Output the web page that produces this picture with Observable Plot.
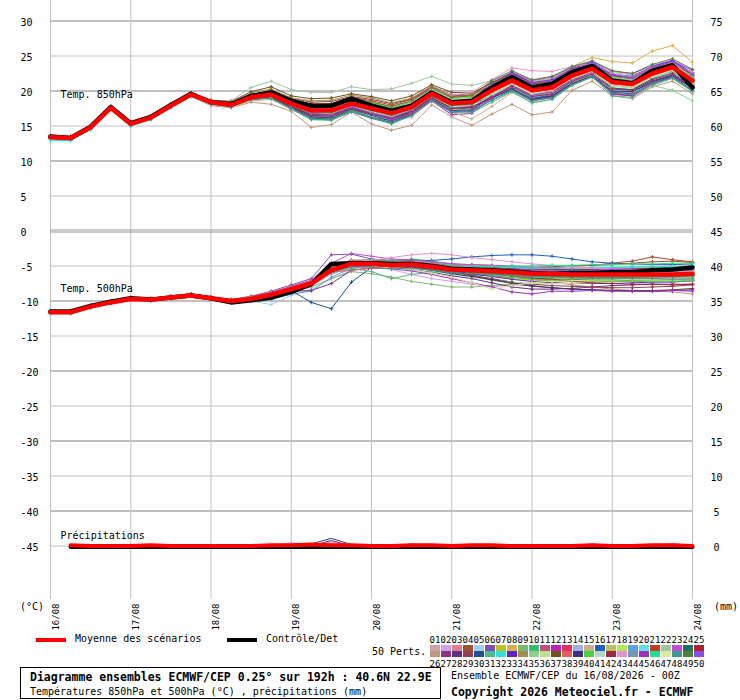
<!DOCTYPE html>
<html>
<head>
<meta charset="utf-8">
<script src="https://cdn.jsdelivr.net/npm/d3@7"></script>
<script src="https://cdn.jsdelivr.net/npm/@observablehq/plot@0.6"></script>
<style>
  body { margin: 0; background: #fff; }
  #page { position: relative; width: 740px; height: 700px; font-family: "DejaVu Sans Mono", monospace; font-size: 10px; color: #000; overflow: hidden; }
  #page .abs { position: absolute; white-space: nowrap; }
</style>
</head>
<body>
<div id="page"></div>
<script>
// Diagramme ensembles ECMWF/CEP - 850hPa, 500hPa, precip

// echeances (heures depuis 16/08 00Z), pas de 6h
const stepHours = [0,6,12,18,24,30,36,42,48,54,60,66,72,78,84,90,96,102,108,114,120,126,132,138,144,150,156,162,168,174,180,186,192]
const dayHours = [0,24,48,72,96,120,144,168,192]
const dayLabels = ["16/08","17/08","18/08","19/08","20/08","21/08","22/08","23/08","24/08"]

const yTicks = [30,25,20,15,10,5,0,-5,-10,-15,-20,-25,-30,-35,-40,-45]
const rightLabels = [75,70,65,60,55,50,45,40,35,30,25,20,15,10,5,0]
const precipZero = -45 // le 0 mm de l'axe de droite tombe sur -45 a gauche

const memberColors = [
  "#d0a0a8","#d0a0e0","#e08088","#a05030","#a0d0e8","#8050b0","#c0c020","#d8b050","#80b870","#30c070",
  "#c05078","#c020b0","#e03060","#a0b0e0","#c8b088","#2060c0","#c0c060","#b0e850","#60a0e0","#60e0e8",
  "#c04020","#a0c8a0","#c050d8","#207060","#b02030","#c09880","#903080","#603080","#904050","#205090",
  "#50b890","#30e0e0","#6020d0","#a09050","#90d090","#c0e090","#705020","#e06060","#403080","#50d040",
  "#b0d8c8","#a02840","#e890d0","#7098b0","#a030c0","#20e090","#e0e8a0","#409890","#508040","#8050e8"
]

const mean850 = [13.4,13.3,14.8,17.6,15.3,16.2,17.9,19.5,18.4,18.0,19.1, 19.5,18.2,17.2,17.2,18.2,17.5,16.8,17.7,19.6,18.2,18.4, 20.1,21.5,20.1,20.5,22.2,23.2,21.3,21.0,22.5,23.4,21.5]
const ctl850  = [13.5,13.3,14.9,17.7,15.4,16.3,18.0,19.6,18.4,18.1,19.3, 19.8,18.6,17.9,17.9,18.9,17.9,17.2,17.9,19.8,18.4,18.6, 20.5,22.0,20.5,21.0,22.7,23.6,21.5,21.1,22.9,23.7,20.5]

const mean500 = [-11.6,-11.6,-10.8,-10.2,-9.7,-9.8,-9.5,-9.2,-9.6,-10.0,-9.7, -9.1,-8.3,-7.5,-5.6,-4.7,-4.7,-4.9,-4.8,-5.1,-5.5,-5.6, -5.7,-5.9,-6.1,-6.1,-6.2,-6.2,-6.2,-6.2,-6.2,-6.2,-6.1]
const ctl500  = [-11.5,-11.5,-10.7,-10.1,-9.6,-9.8,-9.5,-9.2,-9.6,-10.2,-9.9, -9.5,-8.7,-7.6,-4.7,-4.6,-4.6,-4.7,-4.7,-5.0,-5.4,-5.5, -5.6,-5.8,-6.0,-6.1,-6.0,-6.0,-5.9,-5.9,-5.6,-5.5,-5.2]

// precip (mm) de +6h a +192h
const meanPrecip = [0.1,0,0,0,0.1,0,0,0,0,0,0.1,0.1,0.2,0.1,0.1,0,0,0.1,0.1,0,0.1,0.1,0,0,0,0,0.1,0,0,0.1,0.1,0]
const ctlPrecip  = [0,0,0,0,0,0,0,0,0,0,0,0,0,0,0,0,0,0,0,0,0,0,0,0,0,0,0,0,0,0,0,0]
// perturbations avec pluie : [membre, echeance, mm], le reste a 0
const wetPoints = [[39,13,0.3],[39,14,1.1],[39,15,0.2],[3,14,0.6],[10,14,0.3],[28,14,0.8],[43,12,0.5],[31,18,0.3],[43,27,0.3],[43,31,0.4],[12,31,0.2]]

const t850Members = [
  [13.5,13.4,14.9,17.7,15.4,16.3,18.0,19.6,18.5,18.2,19.4, 19.9,18.6,17.7,17.7,18.7,18.1,17.4,18.3,20.2,18.9,19.0, 20.7,22.0,20.8,21.1,22.7,23.5,21.9,21.5,22.9,23.7,22.3],
  [13.3,13.2,14.7,17.5,15.2,16.1,17.8,19.4,18.3,17.9,19.0, 19.3,17.9,16.6,16.5,17.6,16.7,15.9,17.0,19.0,17.5,17.6, 19.2,20.7,19.0,19.5,21.4,22.5,20.1,19.9,21.6,22.4,20.6],
  [13.6,13.5,15.0,17.9,15.5,16.4,18.1,19.6,18.6,18.3,19.6, 20.1,18.9,18.1,18.0,19.0,18.4,17.8,18.6,20.6,19.4,19.6, 21.2,22.5,21.3,21.8,23.1,23.9,22.4,22.0,23.1,24.0,23.1],
  [13.4,13.3,14.8,17.6,15.3,16.2,17.9,19.4,18.3,18.0,19.2, 19.6,18.4,17.5,17.6,18.5,17.8,17.2,18.2,20.1,18.7,18.8, 20.5,21.8,20.4,20.9,22.4,23.3,21.5,21.1,22.5,23.6,22.1],
  [13.2,13.1,14.6,17.4,15.1,16.0,17.7,19.3,18.1,17.7,18.8, 19.1,17.7,16.3,16.2,17.3,16.3,15.5,16.7,18.8,17.1,17.1, 18.9,20.5,18.8,19.4,21.3,22.4,19.9,19.7,21.4,22.2,20.6],
  [13.5,13.4,14.9,17.7,15.4,16.3,17.9,19.5,18.4,18.1,19.3, 19.8,18.5,17.4,17.3,18.5,17.7,17.2,18.2,20.1,18.8,19.0, 20.8,22.1,20.9,21.3,22.8,23.7,22.2,21.8,23.0,23.9,22.6],
  [13.4,13.3,14.8,17.6,15.3,16.2,17.9,19.5,18.4,17.9,19.0, 19.4,18.0,16.9,16.8,17.9,17.2,16.4,17.4,19.3,17.9,18.0, 19.8,21.3,19.9,20.3,22.0,23.0,21.0,20.6,22.1,22.9,21.3],
  [13.4,13.3,14.8,17.7,15.4,16.3,18.0,19.6,18.4,18.1,19.2, 19.7,18.5,17.6,17.7,18.7,18.1,17.5,18.5,20.3,19.0,19.2, 20.8,22.5,21.2,21.8,23.5,24.8,24.2,24.0,25.7,26.5,24.1],
  [13.3,13.2,14.7,17.5,15.2,16.1,17.8,19.4,18.3,17.9,18.9, 19.2,17.8,16.4,16.3,17.5,16.6,15.8,16.9,18.9,17.3,17.4, 19.4,20.9,19.4,19.9,21.7,22.8,20.5,20.1,21.8,22.7,21.0],
  [13.5,13.4,14.9,17.8,15.4,16.3,18.0,19.6,18.5,18.1,19.3, 19.8,18.6,17.8,17.9,18.8,18.2,17.5,18.3,20.2,18.7,18.9, 20.5,21.8,20.5,20.8,22.4,23.3,21.6,21.4,22.8,23.6,21.9],
  [13.4,13.3,14.8,17.6,15.3,16.2,17.9,19.5,18.4,18.0,19.1, 19.5,18.3,17.2,17.1,18.3,17.6,16.8,17.8,19.8,18.4,18.6, 20.4,21.9,20.6,21.1,22.7,23.6,22.0,21.5,22.8,23.5,22.0],
  [13.3,13.2,14.7,17.5,15.2,16.1,17.8,19.4,18.3,17.8,18.8, 19.0,17.6,16.3,16.1,17.3,16.2,15.8,16.6,18.6,16.6,16.8, 19.0,20.6,19.0,19.5,21.4,22.4,19.5,19.3,21.0,22.1,20.7],
  [13.5,13.4,14.9,17.7,15.4,16.3,18.0,19.6,18.5,18.2,19.3, 19.7,18.3,17.2,17.2,18.3,17.6,17.0,17.8,19.7,18.3,18.5, 19.9,21.2,19.7,20.0,21.8,22.9,20.8,20.6,22.2,23.0,21.2],
  [13.2,13.1,14.6,17.4,15.1,16.0,17.7,19.3,18.2,17.8,18.9, 19.3,17.9,16.8,16.7,17.8,17.0,16.3,17.3,19.2,17.8,18.0, 19.6,20.9,19.3,19.7,21.5,22.6,20.4,20.2,21.8,22.6,20.9],
  [13.3,13.2,14.7,17.5,15.2,16.1,17.8,19.3,18.2,17.7,18.6, 18.8,17.4,16.0,16.1,17.3,16.2,15.6,16.3,18.6,17.0,16.0, 17.8,19.8,18.4,18.8,21.0,22.2,20.0,19.5,21.2,22.0,20.0],
  [13.4,13.3,14.8,17.6,15.3,16.2,17.9,19.5,18.4,18.0,19.1, 19.4,18.1,17.0,17.0,18.0,17.2,16.6,17.5,19.5,18.0,18.2, 19.2,20.6,19.0,19.3,21.2,22.3,20.0,19.8,21.4,22.3,20.7],
  [13.5,13.4,14.9,17.7,15.4,16.3,18.0,19.6,18.5,18.1,19.3, 19.9,18.7,17.9,18.0,18.8,18.3,17.6,18.4,20.2,18.8,19.0, 20.6,22.0,20.7,21.1,22.6,23.6,22.0,21.6,23.0,23.8,22.2],
  [13.4,13.3,14.8,17.6,15.3,16.2,17.9,19.5,18.4,18.0,19.0, 19.5,18.1,17.1,17.0,18.1,17.4,16.6,17.6,19.6,18.1,18.3, 20.1,21.6,20.2,20.7,22.3,23.2,21.5,21.1,22.5,23.4,21.7],
  [13.3,13.2,14.7,17.5,15.2,16.1,17.8,19.4,18.3,17.9,19.0, 19.2,17.8,16.5,16.4,17.6,16.7,15.9,17.0,19.0,17.5,17.6, 19.7,21.2,19.7,20.2,22.0,23.0,20.9,20.5,22.1,23.1,21.2],
  [12.9,12.9,14.5,17.3,15.0,15.9,17.6,19.3,18.2,17.8,18.9, 19.6,18.4,17.5,17.4,18.4,17.8,17.1,17.9,19.8,18.3,18.5, 19.8,21.1,19.6,19.9,21.7,22.8,20.7,20.5,22.0,22.8,21.1],
  [13.6,13.5,15.0,17.8,15.5,16.4,18.1,19.7,18.6,18.2,19.3, 20.0,18.8,18.1,18.2,19.1,18.6,18.0,18.8,20.5,19.2,19.4, 21.0,22.3,21.0,21.3,22.9,23.8,22.2,21.8,23.2,24.0,22.5],
  [13.4,13.3,14.8,17.6,15.3,16.2,17.9,19.6,18.6,18.6,20.5, 21.4,20.2,19.8,19.8,20.6,20.2,20.3,21.1,22.1,21.0,20.8, 21.5,22.6,21.5,21.8,23.3,24.0,22.6,22.3,23.3,23.6,22.5],
  [13.4,13.3,14.8,17.6,15.3,16.2,17.9,19.5,18.4,18.0,19.2, 19.7,18.4,17.5,17.5,18.5,17.9,17.2,18.0,19.9,18.6,18.8, 21.2,22.7,21.5,22.0,23.4,24.2,22.8,22.5,23.6,24.4,22.9],
  [13.3,13.2,14.7,17.5,15.2,16.1,17.8,19.4,18.3,17.8,18.8, 19.0,17.5,16.1,16.0,17.2,16.2,15.5,16.6,18.6,17.0,17.1, 18.7,20.2,18.6,19.1,21.0,22.2,19.6,19.4,21.1,22.1,20.1],
  [13.5,13.4,14.9,17.7,15.4,16.3,18.0,19.6,18.5,18.1,19.2, 19.7,18.5,17.6,17.7,18.6,17.9,17.3,18.1,19.9,18.5,18.7, 20.1,21.4,20.0,20.3,22.1,23.2,21.1,20.9,22.4,23.2,21.5],
  [13.4,13.3,14.8,17.5,15.2,16.1,17.7,19.2,17.9,17.6,18.4, 18.1,17.1,14.8,15.2,17.0,15.3,14.4,15.1,18.0,16.3,15.1, 16.7,18.1,16.6,17.0,20.1,21.4,19.3,18.9,20.6,21.4,19.6],
  [13.3,13.2,14.7,17.5,15.2,16.1,17.8,19.4,18.3,17.9,19.0, 19.3,17.9,16.7,16.6,17.7,16.9,16.2,17.2,19.1,17.6,17.8, 19.0,20.4,18.8,19.2,21.1,22.3,19.8,19.6,21.3,22.2,20.4],
  [13.4,13.3,14.8,17.6,15.3,16.2,17.9,19.5,18.4,18.0,19.1, 19.6,18.2,17.3,17.3,18.3,17.6,16.9,17.8,19.7,18.3,18.5, 20.3,21.7,20.3,20.7,22.4,23.4,21.5,21.2,22.6,23.5,21.8],
  [13.5,13.4,14.9,17.7,15.4,16.3,18.0,19.6,18.5,18.1,19.4, 20.1,19.0,18.4,18.5,19.2,18.8,18.2,18.9,20.6,19.3,19.4, 20.9,22.1,20.8,21.1,22.7,23.6,22.1,21.7,23.1,23.9,22.3],
  [13.3,13.2,14.7,17.5,15.2,16.1,17.8,19.4,18.3,17.9,18.9, 19.1,17.7,16.3,16.2,17.4,16.5,15.7,16.8,18.8,17.2,17.3, 19.3,20.8,19.3,19.8,21.6,22.7,20.4,20.2,21.8,22.7,20.9],
  [13.2,13.1,14.6,17.4,15.1,16.0,17.7,19.3,18.2,17.8,18.9, 18.9,17.4,15.9,15.8,17.1,16.1,15.3,16.5,18.6,16.9,16.9, 18.4,19.9,18.3,18.8,20.8,22.0,19.3,19.1,20.8,21.8,19.9],
  [13.0,12.9,14.5,17.3,15.0,15.9,17.6,19.2,18.1,17.7,18.8, 19.8,18.6,17.7,17.7,18.7,18.0,17.3,18.2,20.1,18.7,18.9, 19.3,20.5,19.1,19.6,21.4,22.4,20.3,20.0,21.6,22.5,20.7],
  [13.4,13.3,14.8,17.6,15.3,16.2,17.9,19.5,18.4,18.1,19.3, 19.7,18.5,17.5,17.5,18.5,17.8,17.1,18.0,19.9,18.5,18.7, 21.1,22.6,21.2,21.6,23.2,24.1,22.4,22.1,23.5,24.3,22.6],
  [13.5,13.4,14.9,17.7,15.4,16.3,18.0,19.6,18.6,18.3,19.7, 20.3,19.0,18.6,18.7,19.4,19.0,18.3,19.0,20.7,19.5,19.4, 21.0,22.3,20.9,21.3,22.9,23.7,22.1,21.8,23.2,24.0,22.3],
  [13.4,13.3,14.8,17.6,15.3,16.2,17.9,19.4,18.3,17.9,18.9, 19.3,17.9,16.7,16.6,17.7,16.9,16.1,17.1,19.0,17.6,17.7, 19.4,20.7,19.3,19.8,21.2,22.2,20.1,19.8,20.8,20.1,18.6],
  [13.3,13.2,14.7,17.5,15.2,16.1,17.8,19.4,18.3,17.9,19.0, 19.4,18.0,17.0,17.0,18.0,17.3,16.5,17.5,19.4,18.0,18.2, 19.5,20.9,19.5,19.9,21.7,22.6,20.7,20.4,21.9,22.7,20.9],
  [13.6,13.5,15.0,17.8,15.5,16.4,18.1,19.7,18.7,18.5,19.9, 20.6,19.3,18.9,19.0,19.6,19.2,18.6,19.3,20.9,19.8,19.7, 21.2,22.5,21.0,21.4,23.0,23.8,22.2,21.9,23.4,24.1,22.3],
  [13.4,13.3,14.8,17.6,15.3,16.2,17.9,19.5,18.4,18.0,19.1, 19.6,18.2,17.2,17.2,18.2,17.5,16.8,17.7,19.6,18.2,18.4, 19.8,21.2,19.8,20.2,21.9,22.9,21.0,20.7,22.2,23.1,21.2],
  [13.3,13.2,14.7,17.5,15.2,16.1,17.8,19.4,18.3,17.9,18.9, 19.2,17.8,16.6,16.6,17.6,16.8,16.1,17.1,19.0,17.5,17.7, 19.0,20.3,18.8,19.3,21.1,22.1,20.0,19.9,21.4,22.2,20.4],
  [13.5,13.4,14.9,17.7,15.4,16.3,18.0,19.6,18.5,18.1,19.2, 19.9,18.8,17.9,18.0,18.9,18.3,17.6,18.4,20.3,18.9,19.1, 20.4,21.8,20.4,20.8,22.5,23.5,21.6,21.3,22.8,23.7,21.8],
  [13.4,13.3,14.8,17.6,15.3,16.2,17.9,19.5,18.4,18.0,19.1, 19.6,18.4,17.4,17.4,18.4,17.7,17.0,18.0,19.9,18.5,18.7, 20.7,22.1,20.7,21.1,22.8,23.7,21.9,21.6,23.0,23.9,22.0],
  [13.3,13.2,14.7,17.5,15.2,16.1,17.8,19.4,18.3,17.8,18.9, 19.2,17.8,16.5,16.4,17.5,16.7,16.0,17.0,19.0,17.5,17.6, 19.2,20.6,19.2,19.6,21.4,22.4,20.3,20.1,21.6,22.5,20.6],
  [13.4,13.3,14.8,17.6,15.3,16.2,17.9,19.5,18.4,18.0,19.2, 19.7,18.4,17.4,17.5,18.5,17.8,17.3,18.3,20.4,19.4,19.8, 21.6,23.3,22.9,22.8,23.5,23.9,22.5,22.0,23.4,24.0,22.6],
  [13.5,13.4,14.9,17.7,15.4,16.3,18.0,19.6,18.5,18.1,19.2, 19.7,18.6,17.6,17.6,18.6,17.9,17.2,18.1,20.0,18.6,18.8, 19.9,21.3,19.9,20.3,22.0,23.0,21.1,20.8,22.3,23.2,21.3],
  [13.3,13.2,14.7,17.5,15.2,16.1,17.8,19.4,18.3,17.9,19.0, 19.4,18.1,16.8,16.6,17.7,16.8,16.0,16.8,18.7,17.0,17.2, 19.1,20.8,19.4,19.9,21.6,22.6,19.6,19.4,21.0,22.0,20.8],
  [13.4,13.3,14.8,17.6,15.3,16.2,17.9,19.5,18.4,18.0,19.1, 19.3,17.9,16.9,16.9,17.9,17.2,16.5,17.4,19.3,17.9,18.1, 20.5,22.0,20.6,21.0,22.7,23.6,21.8,21.5,22.9,23.8,21.9],
  [13.4,13.3,14.8,17.6,15.3,16.2,17.9,19.5,18.4,18.0,19.1, 19.8,18.7,17.8,17.8,18.8,18.1,17.4,18.3,20.2,18.8,19.0, 19.7,21.1,19.7,20.1,21.8,22.8,20.9,20.6,22.1,23.0,21.1],
  [13.3,13.2,14.7,17.5,15.2,16.1,17.8,19.4,18.3,17.8,18.8, 19.0,17.5,16.0,15.9,17.0,16.1,15.4,16.5,18.6,17.0,17.1, 18.7,20.0,18.6,19.0,20.9,22.0,19.7,19.5,21.0,21.9,20.0],
  [13.5,13.4,14.9,17.7,15.4,16.3,18.0,19.6,18.5,18.1,19.3, 20.0,18.9,18.1,18.1,19.0,18.4,17.8,18.6,20.4,19.1,19.3, 21.5,22.9,21.6,22.1,23.5,24.3,22.9,22.5,23.8,24.6,23.1],
  [13.4,13.3,14.8,17.6,15.3,16.2,17.9,19.5,18.4,18.0,19.2, 19.5,18.1,17.1,17.1,18.1,17.4,16.7,17.6,19.5,18.1,18.3, 20.9,22.4,21.1,21.5,23.0,24.0,22.3,21.9,23.3,24.2,22.4]
]

const t500Members = [
  [-11.5,-11.5,-10.7,-10.1,-9.6,-9.7,-9.4,-9.1,-9.5,-9.8,-9.4, -8.8,-8.0,-7.2,-5.0,-4.3,-4.4,-4.6,-4.6,-4.9,-5.3,-5.4, -5.5,-5.7,-5.9,-5.8,-5.9,-6.0,-5.9,-5.9,-5.8,-5.9,-5.8],
  [-11.6,-11.6,-10.8,-10.2,-9.7,-9.8,-9.5,-9.2,-9.6,-10.1,-9.8, -9.3,-8.6,-7.8,-6.2,-5.1,-5.0,-5.5,-6.2,-6.8,-7.2,-7.6, -7.9,-7.8,-7.6,-7.3,-7.1,-7.0,-6.9,-6.9,-6.8,-6.8,-6.7],
  [-11.7,-11.7,-10.9,-10.3,-9.8,-9.9,-9.6,-9.3,-9.7,-10.0,-9.6, -9.0,-8.2,-7.4,-5.4,-4.5,-4.5,-4.7,-4.6,-4.9,-5.2,-5.4, -5.5,-5.8,-6.0,-6.1,-6.2,-6.3,-6.2,-6.1,-6.0,-6.1,-6.0],
  [-11.5,-11.5,-10.7,-10.1,-9.6,-9.7,-9.4,-9.1,-9.5,-9.9,-9.5, -8.9,-8.1,-7.3,-5.3,-4.4,-4.3,-4.5,-4.4,-4.6,-4.9,-5.0, -5.0,-5.2,-5.3,-5.2,-5.0,-4.9,-4.6,-4.3,-3.7,-4.1,-4.4],
  [-11.6,-11.6,-10.8,-10.2,-9.7,-9.8,-9.5,-9.2,-9.7,-10.2,-10.0, -10.5,-9.2,-8.3,-6.8,-5.6,-5.2,-5.0,-4.9,-5.2,-5.6,-5.8, -5.9,-6.1,-6.3,-6.4,-6.5,-6.4,-6.4,-6.5,-6.4,-6.5,-6.3],
  [-11.5,-11.5,-10.7,-10.1,-9.6,-9.7,-9.4,-9.1,-9.5,-9.8,-9.3, -8.6,-7.7,-6.8,-3.4,-3.3,-4.0,-4.2,-4.1,-4.4,-4.7,-4.9, -5.0,-5.2,-5.5,-5.6,-5.7,-5.8,-5.8,-5.7,-5.6,-5.7,-5.6],
  [-11.6,-11.6,-10.8,-10.2,-9.7,-9.8,-9.5,-9.2,-9.6,-10.0,-9.7, -9.1,-8.3,-7.5,-5.8,-4.9,-4.9,-5.1,-5.0,-5.3,-5.7,-6.1, -6.5,-6.8,-7.0,-7.1,-7.2,-7.2,-7.2,-7.1,-7.1,-7.1,-7.0],
  [-11.4,-11.4,-10.6,-10.0,-9.5,-9.6,-9.3,-9.0,-9.4,-9.8,-9.4, -8.8,-8.0,-7.1,-5.1,-4.3,-4.3,-4.5,-4.4,-4.7,-5.1,-5.2, -5.3,-5.5,-5.7,-5.7,-5.8,-5.8,-5.8,-5.7,-5.7,-5.7,-5.6],
  [-11.7,-11.7,-10.9,-10.3,-9.8,-9.9,-9.6,-9.3,-9.7,-10.1,-9.8, -9.3,-8.6,-8.0,-6.8,-5.8,-6.1,-6.6,-7.2,-7.6,-8.0,-8.0, -7.8,-7.6,-7.4,-7.2,-7.0,-6.9,-6.9,-6.8,-6.8,-6.9,-6.7],
  [-11.5,-11.5,-10.7,-10.1,-9.6,-9.7,-9.4,-9.1,-9.5,-9.9,-9.6, -9.0,-8.2,-7.4,-5.5,-4.2,-4.1,-4.2,-4.0,-4.3,-4.7,-4.8, -4.9,-5.1,-5.2,-5.2,-5.3,-5.3,-5.2,-5.2,-5.1,-5.2,-5.1],
  [-11.6,-11.6,-10.8,-10.2,-9.7,-9.8,-9.5,-9.2,-9.6,-10.0,-9.7, -9.1,-8.3,-7.5,-5.7,-4.8,-4.8,-5.0,-4.9,-5.2,-5.6,-5.7, -5.8,-6.1,-6.3,-6.3,-6.4,-6.4,-6.4,-6.4,-6.4,-6.4,-6.3],
  [-11.5,-11.5,-10.7,-10.1,-9.6,-9.7,-9.4,-9.1,-9.5,-9.9,-9.5, -8.9,-8.1,-7.3,-5.2,-4.2,-4.2,-4.4,-4.3,-4.5,-4.8,-4.9, -5.1,-5.4,-5.7,-5.9,-6.1,-6.3,-6.4,-6.6,-6.8,-7.0,-7.1],
  [-11.7,-11.7,-10.9,-10.3,-9.8,-9.9,-9.6,-9.3,-9.7,-10.1,-9.8, -9.2,-8.4,-7.6,-5.9,-5.0,-5.0,-5.2,-5.1,-5.4,-5.8,-5.9, -6.0,-6.2,-6.4,-6.4,-6.5,-6.5,-6.5,-6.4,-6.4,-6.4,-6.3],
  [-11.6,-11.6,-10.8,-10.2,-9.7,-9.8,-9.5,-9.2,-9.6,-10.0,-9.7, -9.2,-8.4,-7.6,-5.7,-4.5,-4.6,-4.7,-4.5,-4.6,-4.9,-5.0, -5.0,-5.1,-5.3,-5.4,-5.6,-5.7,-5.7,-5.8,-5.8,-5.8,-5.7],
  [-11.5,-11.5,-10.7,-10.1,-9.6,-9.7,-9.4,-9.1,-9.5,-9.9,-9.6, -9.0,-8.2,-7.4,-5.6,-4.7,-4.7,-4.9,-4.8,-5.1,-5.5,-5.7, -5.9,-6.2,-6.5,-6.7,-6.9,-7.0,-7.1,-7.1,-7.1,-7.2,-7.1],
  [-11.6,-11.6,-10.8,-10.2,-9.7,-9.8,-9.5,-9.2,-9.6,-10.0,-9.6, -9.0,-8.2,-7.3,-5.4,-4.4,-4.3,-4.4,-4.2,-4.2,-4.0,-3.7, -3.5,-3.4,-3.4,-3.6,-4.0,-4.4,-4.6,-4.7,-4.8,-4.8,-4.7],
  [-11.5,-11.5,-10.7,-10.1,-9.6,-9.7,-9.4,-9.1,-9.5,-9.9,-9.6, -9.0,-8.2,-7.4,-5.6,-4.7,-4.7,-4.9,-4.9,-5.2,-5.6,-5.8, -5.9,-6.1,-6.3,-6.3,-6.4,-6.4,-6.4,-6.4,-6.3,-6.4,-6.3],
  [-11.6,-11.6,-10.8,-10.2,-9.7,-9.8,-9.5,-9.2,-9.6,-10.0,-9.7, -9.1,-8.3,-7.5,-5.7,-4.8,-4.8,-5.0,-5.0,-5.3,-5.8,-6.1, -6.4,-6.6,-6.8,-6.8,-6.8,-6.8,-6.7,-6.7,-6.6,-6.6,-6.5],
  [-11.7,-11.7,-10.9,-10.3,-9.8,-9.9,-9.6,-9.3,-9.7,-10.2,-10.0, -9.8,-9.0,-8.6,-6.6,-5.3,-5.0,-5.1,-5.0,-5.3,-5.6,-5.7, -5.8,-6.0,-6.2,-6.2,-6.3,-6.3,-6.3,-6.3,-6.3,-6.3,-6.2],
  [-11.8,-11.8,-10.9,-10.3,-9.8,-9.9,-9.6,-9.3,-9.7,-10.0,-9.7, -9.1,-8.3,-7.4,-5.6,-4.6,-4.6,-4.8,-4.7,-5.0,-5.4,-5.5, -5.6,-5.8,-6.0,-6.1,-6.2,-6.3,-6.2,-6.2,-6.2,-6.3,-6.2],
  [-11.4,-11.4,-10.6,-10.0,-9.5,-9.6,-9.3,-9.0,-9.4,-9.8,-9.4, -8.8,-7.9,-7.1,-5.0,-4.2,-4.2,-4.4,-4.3,-4.5,-4.8,-4.9, -5.0,-5.1,-5.2,-5.1,-5.0,-4.9,-4.8,-4.6,-4.4,-4.3,-4.5],
  [-11.6,-11.6,-10.8,-10.2,-9.7,-9.8,-9.5,-9.2,-9.6,-10.0,-9.7, -9.1,-8.3,-7.5,-5.6,-4.4,-4.3,-4.4,-4.3,-4.5,-4.8,-4.9, -5.1,-5.3,-5.4,-5.5,-5.5,-5.4,-5.3,-5.2,-5.1,-5.0,-5.0],
  [-11.5,-11.5,-10.7,-10.1,-9.6,-9.7,-9.4,-9.1,-9.5,-9.9,-9.5, -8.8,-7.9,-7.0,-4.6,-3.2,-3.6,-4.0,-4.1,-4.4,-4.7,-4.8, -4.9,-5.0,-5.2,-5.3,-5.5,-5.6,-5.7,-5.8,-5.8,-5.8,-5.6],
  [-11.6,-11.6,-10.8,-10.2,-9.7,-9.8,-9.5,-9.2,-9.6,-10.0,-9.7, -9.2,-8.4,-7.6,-5.8,-5.0,-5.1,-5.3,-5.3,-5.6,-6.0,-6.2, -6.4,-6.6,-6.8,-6.9,-6.9,-7.0,-7.0,-7.0,-7.0,-7.0,-6.9],
  [-11.5,-11.5,-10.7,-10.1,-9.6,-9.7,-9.4,-9.1,-9.5,-9.9,-9.5, -8.9,-8.1,-7.2,-5.2,-4.3,-4.3,-4.5,-4.4,-4.7,-5.0,-5.1, -5.2,-5.4,-5.5,-5.5,-5.5,-5.5,-5.4,-5.4,-5.3,-5.3,-5.2],
  [-11.6,-11.6,-10.8,-10.2,-9.7,-9.8,-9.5,-9.2,-9.6,-10.0,-9.7, -9.1,-8.3,-7.5,-5.7,-4.8,-4.8,-5.0,-5.0,-5.3,-5.7,-5.9, -6.1,-6.5,-6.9,-7.3,-7.7,-8.0,-8.3,-8.5,-8.6,-8.7,-9.0],
  [-11.7,-11.7,-10.9,-10.3,-9.8,-9.9,-9.6,-9.3,-9.7,-10.1,-9.8, -9.3,-8.6,-8.5,-7.5,-5.6,-5.3,-5.3,-5.2,-5.4,-5.7,-5.8, -5.9,-6.1,-6.3,-6.3,-6.4,-6.4,-6.4,-6.4,-6.4,-6.4,-6.3],
  [-11.6,-11.6,-10.8,-10.2,-9.7,-9.8,-9.5,-9.2,-9.6,-10.0,-9.7, -9.1,-8.3,-7.5,-5.8,-4.9,-5.0,-5.3,-5.5,-5.9,-6.4,-6.8, -7.4,-8.0,-8.3,-8.3,-8.2,-8.0,-7.8,-7.7,-7.6,-7.6,-7.6],
  [-11.5,-11.5,-10.7,-10.1,-9.6,-9.7,-9.4,-9.1,-9.5,-9.9,-9.6, -9.0,-8.2,-7.4,-5.6,-4.7,-4.7,-4.9,-4.9,-5.3,-5.8,-6.3, -6.8,-7.3,-7.6,-7.8,-7.9,-8.0,-8.1,-8.1,-8.0,-7.9,-7.7],
  [-11.7,-11.7,-10.9,-10.3,-9.8,-9.9,-9.6,-9.3,-9.7,-10.1,-9.8, -9.2,-8.5,-10.2,-11.1,-7.3,-5.2,-5.0,-4.9,-5.1,-5.4,-5.5, -5.6,-5.8,-6.0,-6.0,-6.1,-6.1,-6.1,-6.1,-6.1,-6.1,-6.0],
  [-11.8,-11.8,-10.9,-10.3,-9.8,-9.9,-9.6,-9.3,-9.7,-10.1,-9.8, -9.3,-8.5,-7.7,-6.0,-5.3,-5.8,-6.8,-6.2,-5.9,-5.9,-6.0, -6.1,-6.3,-6.5,-6.5,-6.6,-6.6,-6.6,-6.6,-6.6,-6.6,-6.5],
  [-11.6,-11.6,-10.8,-10.2,-9.7,-9.8,-9.5,-9.2,-9.6,-10.0,-9.7, -9.0,-8.2,-7.4,-5.5,-4.4,-4.5,-4.6,-4.6,-4.8,-5.0,-5.1, -5.1,-5.2,-5.3,-5.3,-5.3,-5.2,-5.2,-5.1,-5.1,-5.1,-5.0],
  [-11.5,-11.5,-10.7,-10.1,-9.6,-9.7,-9.4,-9.1,-9.5,-9.9,-9.6, -9.0,-8.2,-7.4,-5.5,-4.6,-4.6,-4.8,-4.8,-5.2,-5.7,-6.1, -6.5,-6.9,-7.2,-7.4,-7.5,-7.5,-7.5,-7.4,-7.3,-7.3,-7.1],
  [-11.6,-11.6,-10.8,-10.2,-9.7,-9.8,-9.5,-9.2,-9.6,-10.0,-9.7, -9.1,-8.3,-7.5,-5.6,-4.7,-4.7,-4.9,-4.8,-5.1,-5.5,-5.9, -6.4,-6.6,-6.8,-6.9,-7.0,-7.0,-7.1,-7.1,-7.0,-7.0,-6.9],
  [-11.5,-11.5,-10.7,-10.1,-9.6,-9.7,-9.4,-9.1,-9.5,-9.9,-9.5, -8.9,-8.1,-7.3,-5.3,-4.4,-4.4,-4.6,-4.6,-4.9,-5.3,-5.5, -5.7,-6.0,-6.3,-6.4,-6.5,-6.5,-6.5,-6.5,-6.5,-6.5,-6.4],
  [-11.6,-11.6,-10.8,-10.2,-9.7,-9.8,-9.5,-9.2,-9.6,-10.0,-9.7, -9.1,-8.3,-7.5,-5.6,-4.8,-4.9,-5.2,-5.3,-5.7,-6.2,-6.6, -7.0,-7.3,-7.5,-7.5,-7.5,-7.4,-7.3,-7.2,-7.1,-7.1,-7.0],
  [-11.7,-11.7,-10.9,-10.3,-9.8,-9.9,-9.6,-9.3,-9.7,-10.1,-9.8, -9.2,-8.4,-7.6,-5.7,-4.8,-4.8,-5.0,-5.0,-5.4,-5.9,-6.4, -7.0,-7.5,-7.9,-8.1,-8.3,-8.4,-8.5,-8.5,-8.5,-8.4,-8.2],
  [-11.6,-11.6,-10.8,-10.2,-9.7,-9.8,-9.5,-9.2,-9.6,-10.0,-9.7, -9.1,-8.3,-7.5,-5.9,-5.6,-5.3,-5.1,-5.0,-5.3,-5.6,-5.7, -5.7,-5.9,-6.0,-6.0,-6.1,-6.1,-6.1,-6.1,-6.1,-6.1,-6.0],
  [-11.5,-11.5,-10.7,-10.1,-9.6,-9.7,-9.4,-9.1,-9.5,-9.9,-9.6, -9.0,-8.2,-7.4,-5.6,-4.7,-4.8,-5.1,-5.2,-5.6,-6.1,-6.5, -6.9,-7.4,-7.8,-8.1,-8.3,-8.4,-8.5,-8.6,-8.6,-8.5,-8.4],
  [-11.6,-11.6,-10.8,-10.2,-9.7,-9.8,-9.5,-9.2,-9.6,-10.0,-9.7, -9.1,-8.3,-7.5,-5.7,-4.8,-4.8,-5.0,-4.9,-5.2,-5.6,-5.9, -6.3,-6.6,-6.9,-7.0,-7.1,-7.1,-7.2,-7.2,-7.2,-7.2,-7.1],
  [-11.5,-11.5,-10.7,-10.1,-9.6,-9.7,-9.4,-9.1,-9.5,-9.9,-9.6, -9.0,-8.2,-7.4,-5.5,-4.6,-4.6,-4.8,-4.7,-5.0,-5.4,-5.4, -5.5,-5.7,-5.8,-5.8,-5.9,-5.9,-5.9,-5.9,-5.9,-5.9,-5.8],
  [-11.6,-11.6,-10.8,-10.2,-9.7,-9.8,-9.5,-9.2,-9.6,-10.0,-9.7, -9.1,-8.3,-7.5,-5.7,-4.8,-4.9,-5.1,-5.0,-5.3,-5.7,-5.9, -6.1,-6.4,-6.7,-6.9,-7.2,-7.4,-7.5,-7.6,-7.6,-7.7,-7.6],
  [-11.5,-11.5,-10.7,-10.1,-9.6,-9.7,-9.4,-9.1,-9.5,-9.9,-9.5, -8.9,-8.1,-7.2,-5.1,-4.3,-4.2,-3.8,-3.4,-3.2,-3.4,-3.8, -4.1,-4.4,-4.7,-4.9,-5.1,-5.3,-5.4,-5.5,-5.5,-5.5,-5.4],
  [-11.7,-11.7,-10.9,-10.3,-9.8,-9.9,-9.6,-9.3,-9.7,-10.1,-9.8, -9.2,-8.4,-7.6,-5.8,-4.9,-4.9,-5.1,-5.0,-5.3,-5.7,-5.8, -5.9,-6.1,-6.3,-6.4,-6.5,-6.5,-6.6,-6.6,-6.6,-6.6,-6.5],
  [-11.6,-11.6,-10.8,-10.2,-9.7,-9.8,-9.5,-9.2,-9.6,-10.0,-9.7, -9.1,-8.3,-7.5,-5.8,-5.0,-5.1,-5.4,-5.7,-6.2,-6.8,-7.4, -8.0,-8.7,-9.0,-8.6,-8.6,-8.5,-8.6,-8.6,-8.6,-8.5,-8.6],
  [-11.5,-11.5,-10.7,-10.1,-9.6,-9.7,-9.4,-9.1,-9.5,-9.9,-9.6, -9.0,-8.2,-7.4,-5.5,-4.5,-4.4,-4.5,-4.6,-4.9,-5.2,-5.2, -5.1,-5.0,-5.0,-4.9,-4.9,-4.8,-4.8,-4.7,-4.7,-4.6,-4.6],
  [-11.6,-11.6,-10.8,-10.2,-9.7,-9.8,-9.5,-9.2,-9.6,-10.0,-9.7, -9.1,-8.3,-7.5,-5.7,-4.9,-5.0,-5.3,-5.5,-6.0,-6.6,-7.4, -8.3,-7.8,-7.4,-7.2,-7.1,-7.0,-7.0,-6.9,-6.9,-6.9,-6.8],
  [-11.7,-11.7,-10.9,-10.3,-9.8,-9.9,-9.6,-9.3,-9.7,-10.1,-9.8, -9.2,-8.4,-7.6,-5.9,-5.1,-5.2,-5.4,-5.3,-5.6,-6.0,-6.1, -6.2,-6.4,-6.6,-6.6,-6.7,-6.8,-6.8,-6.8,-6.8,-6.9,-6.8],
  [-11.5,-11.5,-10.7,-10.1,-9.6,-9.7,-9.4,-9.1,-9.5,-9.9,-9.6, -9.0,-8.2,-7.4,-5.6,-4.7,-4.7,-4.9,-4.9,-5.2,-5.6,-5.8, -6.0,-6.2,-6.4,-6.5,-6.6,-6.6,-6.6,-6.6,-6.5,-6.5,-6.4],
  [-11.6,-11.6,-10.8,-10.2,-9.7,-9.8,-9.5,-9.2,-9.6,-10.0,-9.7, -9.1,-8.3,-7.5,-5.6,-4.7,-4.7,-4.9,-4.8,-5.1,-5.4,-5.4, -5.4,-5.5,-5.6,-5.6,-5.6,-5.6,-5.5,-5.5,-5.4,-5.4,-5.3]
]

// libelles des panneaux
const panelLabels = [
  {h: 3, v: 19.4, text: "Temp. 850hPa"},
  {h: 3, v: -8.3, text: "Temp. 500hPa"},
  {h: 3, v: -43.6, text: "Précipitations"}
]

/* ---- tables pour Plot ---- */
const memberRows = []
t850Members.forEach((vals, m) => vals.forEach((v, i) =>
  memberRows.push({key: "t850-" + m, color: memberColors[m], h: stepHours[i], v})))
t500Members.forEach((vals, m) => vals.forEach((v, i) =>
  memberRows.push({key: "t500-" + m, color: memberColors[m], h: stepHours[i], v})))

const precipRows = []
memberColors.forEach((color, m) => {
  for (let i = 1; i < stepHours.length; i++) {
    const wet = wetPoints.find(w => w[0] === m + 1 && w[1] === i)
    precipRows.push({key: "rr-" + m, color, h: stepHours[i], v: precipZero + (wet ? wet[2] : 0)})
  }
})

const asRows = (vals, key, hours) => vals.map((v, i) => ({key, h: hours[i], v}))
const ctlRows = [...asRows(ctl850, "850", stepHours), ...asRows(ctl500, "500", stepHours)]
const meanRows = [...asRows(mean850, "850", stepHours), ...asRows(mean500, "500", stepHours)]
const ctlPrecipRows = asRows(ctlPrecip.map(d => precipZero + d), "rr", stepHours.slice(1))
const meanPrecipRows = asRows(meanPrecip.map(d => precipZero + d), "rr", stepHours.slice(1))

const majorTicks = yTicks.filter(d => d % 10 === 0 && d !== 0)
const minorTicks = yTicks.filter(d => d % 10 !== 0)

const chart = Plot.plot({
  width: 740,
  height: 640,
  marginLeft: 50,
  marginRight: 48,
  marginTop: 0,
  marginBottom: 41,
  x: {domain: [0, 192], axis: null},
  y: {domain: [-52.64, 32.93], axis: null},
  color: {type: "identity"},
  style: {fontFamily: "'DejaVu Sans Mono', monospace", fontSize: "10px", background: "white", overflow: "visible"},
  marks: [
    Plot.ruleX(dayHours, {stroke: "#c0c0c0"}),
    Plot.ruleY(minorTicks, {stroke: "#c0c0c0"}),
    Plot.ruleY(majorTicks, {stroke: "#c0c0c0", strokeWidth: 2}),
    Plot.ruleY([0], {stroke: "#999", dy: -1}),
    Plot.ruleY([0], {stroke: "#999", dy: 1}),

    // perturbations
    Plot.line(memberRows, {x: "h", y: "v", z: "key", stroke: "color", strokeWidth: 1}),
    Plot.dot(memberRows, {x: "h", y: "v", stroke: "color", symbol: "plus", r: 1.3, strokeWidth: 1}),
    Plot.line(precipRows, {x: "h", y: "v", z: "key", stroke: "color", strokeWidth: 1}),

    // controle puis moyenne
    Plot.line(ctlRows, {x: "h", y: "v", z: "key", stroke: "black", strokeWidth: 4.5, strokeLinejoin: "miter"}),
    Plot.line(ctlPrecipRows, {x: "h", y: "v", stroke: "black", strokeWidth: 4, dy: 1}),
    Plot.line(meanRows, {x: "h", y: "v", z: "key", stroke: "#ff0000", strokeWidth: 4.5, strokeLinejoin: "miter"}),
    Plot.line(meanPrecipRows, {x: "h", y: "v", stroke: "#ff0000", strokeWidth: 4}),

    Plot.text(panelLabels, {x: "h", y: "v", text: "text", textAnchor: "start", fill: "black"}),

    // axes
    Plot.text(yTicks, {y: d => d, text: d => String(d), frameAnchor: "left", dx: -30, dy: 2, textAnchor: "start"}),
    Plot.text(yTicks, {y: d => d, text: (d, i) => String(rightLabels[i]), frameAnchor: "right", dx: 24, dy: 2, textAnchor: "middle"}),
    Plot.text(dayHours, {x: d => d, text: (d, i) => dayLabels[i], frameAnchor: "bottom", rotate: -90, textAnchor: "end", dx: 8, dy: 4, fontSize: 9})
  ]
})

/* ---- page ---- */
const page = d3.select("#page")
page.append(() => chart).style("position", "absolute").style("left", "0px").style("top", "0px")

function label(txt, left, centerY, opts = {}) {
  const size = opts.size || 10
  const el = page.append("div").attr("class", "abs")
    .style("left", left + "px")
    .style("top", (centerY - 7) + "px")
    .style("line-height", "14px")
    .style("font-size", size + "px")
    .text(txt)
  if (opts.bold) el.style("font-weight", "bold")
  if (opts.center) el.style("transform", "translateX(-50%)")
  return el
}

label("(°C)", 20, 607)
label("(mm)", 714, 607)

// legende
page.append("div").attr("class", "abs").style("left", "36px").style("top", "638px")
  .style("width", "30px").style("height", "4px").style("background", "#ff0000")
label("Moyenne des scénarios", 75, 639)
page.append("div").attr("class", "abs").style("left", "227px").style("top", "638px")
  .style("width", "30px").style("height", "4px").style("background", "#000")
label("Contrôle/Det", 266, 639)
label("50 Perts.", 372, 652)

memberColors.forEach((c, m) => {
  const col = m % 25
  const row = Math.floor(m / 25)
  page.append("div").attr("class", "abs")
    .style("left", (430 + col * 11) + "px")
    .style("top", (645 + row * 6) + "px")
    .style("width", "10px").style("height", "6px")
    .style("background", c)
  label(String(m + 1).padStart(2, "0"), 435 + col * 11, row ? 664 : 640, {size: 9, center: true})
})

// cartouche
page.append("div").attr("class", "abs")
  .style("left", "20px").style("top", "667px")
  .style("width", "421px").style("height", "32px")
  .style("border", "1px solid #000").style("box-sizing", "border-box")
label("Diagramme ensembles ECMWF/CEP 0.25° sur 192h : 40.6N 22.9E", 30, 677, {size: 11.5, bold: true})
label("Températures 850hPa et 500hPa (°C) , précipitations (mm)", 30, 692)
label("Ensemble ECMWF/CEP du 16/08/2026 - 00Z", 451, 676)
label("Copyright 2026 Meteociel.fr - ECMWF", 451, 692, {size: 11.5, bold: true})
</script>
</body>
</html>
